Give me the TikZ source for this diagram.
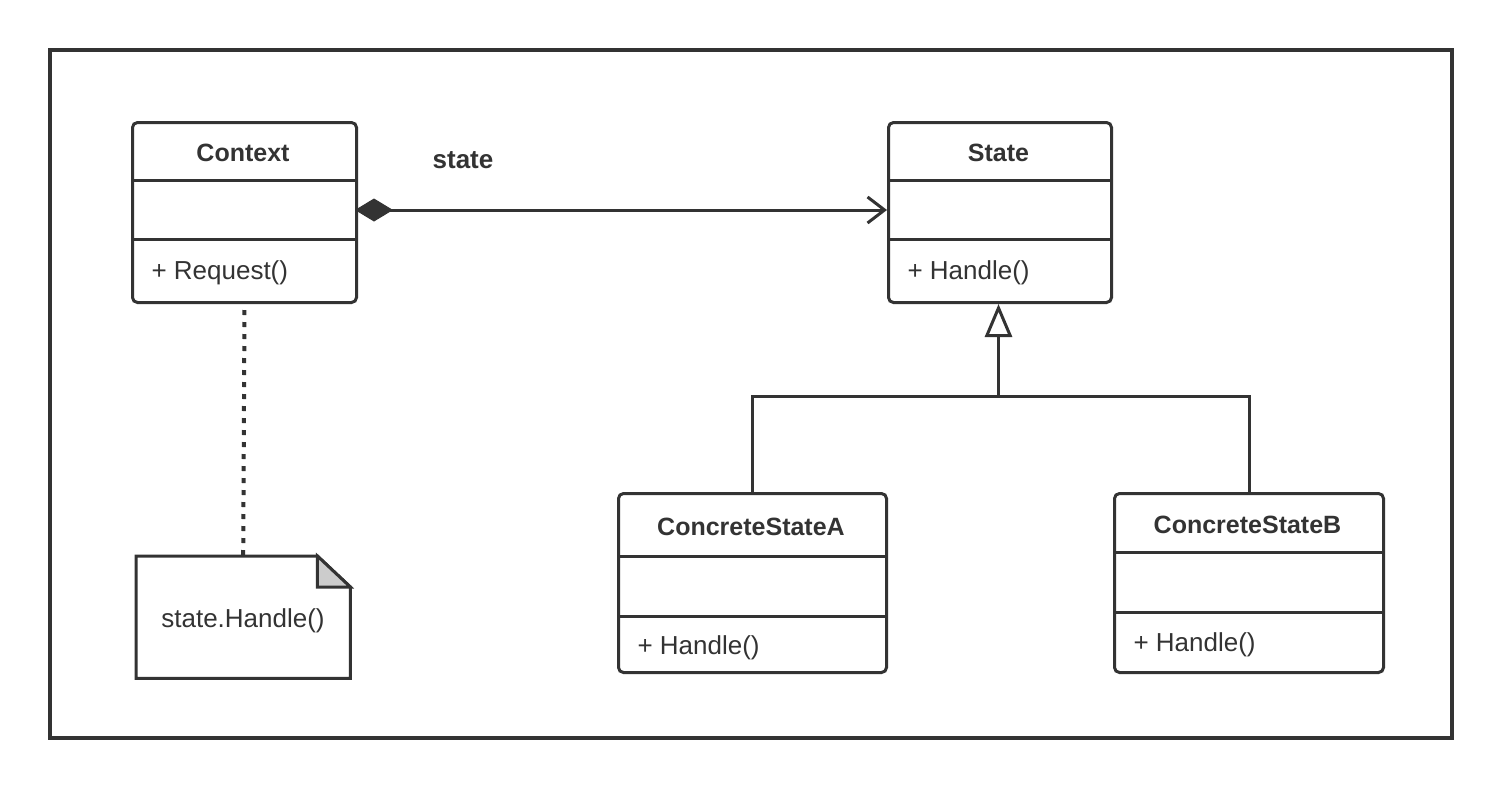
\documentclass[tikz,border=0pt]{standalone}
\usepackage{fontspec}
\setmainfont{Liberation Sans}
\usetikzlibrary{arrows.meta}
\definecolor{ink}{HTML}{333333}
\definecolor{foldgray}{HTML}{CCCCCC}
\begin{document}
\begin{tikzpicture}[x=1pt,y=-1pt,
  line/.style={draw=ink, line width=3pt},
  cls/.style={draw=ink, line width=3pt, rounded corners=5pt, fill=white, inner sep=0pt, anchor=north west},
  title/.style={font=\fontsize{25}{30}\selectfont\bfseries, text=ink},
  member/.style={font=\fontsize{26}{30}\selectfont, text=ink, anchor=west},
  divider/.style={draw=ink, line width=3pt}
]
\useasboundingbox (0,0) rectangle (1502,788);
\fill[white] (0,0) rectangle (1502,788);
\draw[draw=ink, line width=4pt] (50,50) rectangle (1452,738);

% Context
\node[cls, minimum width=224pt, minimum height=180pt] (ctx) at (131,121) {};
\draw[divider] ([yshift=-59pt]ctx.north west) -- ([yshift=-59pt]ctx.north east);
\draw[divider] ([yshift=-118pt]ctx.north west) -- ([yshift=-118pt]ctx.north east);
\node[title] (ctxname) at (243,153) {Context};
\node[member] (ctxop) at (148,273) {+ Request()};

% State
\node[cls, minimum width=223pt, minimum height=180pt] (st) at (887,121) {};
\draw[divider] ([yshift=-59pt]st.north west) -- ([yshift=-59pt]st.north east);
\draw[divider] ([yshift=-118pt]st.north west) -- ([yshift=-118pt]st.north east);
\node[title] (stname) at (998.5,153) {State};
\node[member] (stop) at (904,273) {+ Handle()};

% ConcreteStateA
\node[cls, minimum width=268pt, minimum height=179pt] (ca) at (617,492) {};
\draw[divider] ([yshift=-64pt]ca.north west) -- ([yshift=-64pt]ca.north east);
\draw[divider] ([yshift=-124pt]ca.north west) -- ([yshift=-124pt]ca.north east);
\node[title] (caname) at (751,527) {ConcreteStateA};
\node[member] (caop) at (634,648) {+ Handle()};

% ConcreteStateB
\node[cls, minimum width=269pt, minimum height=179pt] (cb) at (1113,492) {};
\draw[divider] ([yshift=-60pt]cb.north west) -- ([yshift=-60pt]cb.north east);
\draw[divider] ([yshift=-120pt]cb.north west) -- ([yshift=-120pt]cb.north east);
\node[title] (cbname) at (1247.5,525) {ConcreteStateB};
\node[member] (cbop) at (1130,645) {+ Handle()};

% composition Context -> State
\coordinate (compA) at (355,210);
\coordinate (compB) at (887,210);
\draw[line, {Diamond[length=38pt,width=23pt,fill=ink,line width=1pt]}-{Straight Barb[length=17pt,width=26pt,line width=3pt]}] (compA) -- (compB);
\node[title, font=\fontsize{26}{30}\selectfont\bfseries] (rolelabel) at (463,160) {state};

% generalization
\coordinate (j) at (998.5,396);
\draw[line] (ca.north) |- (j) -| (cb.north);
\draw[line, -{Triangle[open, length=33pt, width=27pt, line width=3pt, fill=white]}] (j) -- (j |- st.south);

% note
\node[minimum width=214pt, minimum height=122pt, anchor=north west, inner sep=0pt] (note) at (136,556) {};
\draw[line, line join=miter] (note.north west) -- ([xshift=-33pt]note.north east) -- ([yshift=-31pt]note.north east) -- (note.south east) -- (note.south west) -- cycle;
\filldraw[fill=foldgray, line, line join=miter] ([xshift=-33pt]note.north east) -- ([xshift=-33pt,yshift=-31pt]note.north east) -- ([yshift=-31pt]note.north east) -- cycle;
\node[font=\fontsize{26}{30}\selectfont, text=ink] (notetext) at (243,621) {state.Handle()};

% dotted anchor line
\draw[draw=ink, line width=4pt, dash pattern=on 5pt off 7pt, dash phase=-6pt] (ctx.south) -- (note.north);
\end{tikzpicture}
\end{document}
